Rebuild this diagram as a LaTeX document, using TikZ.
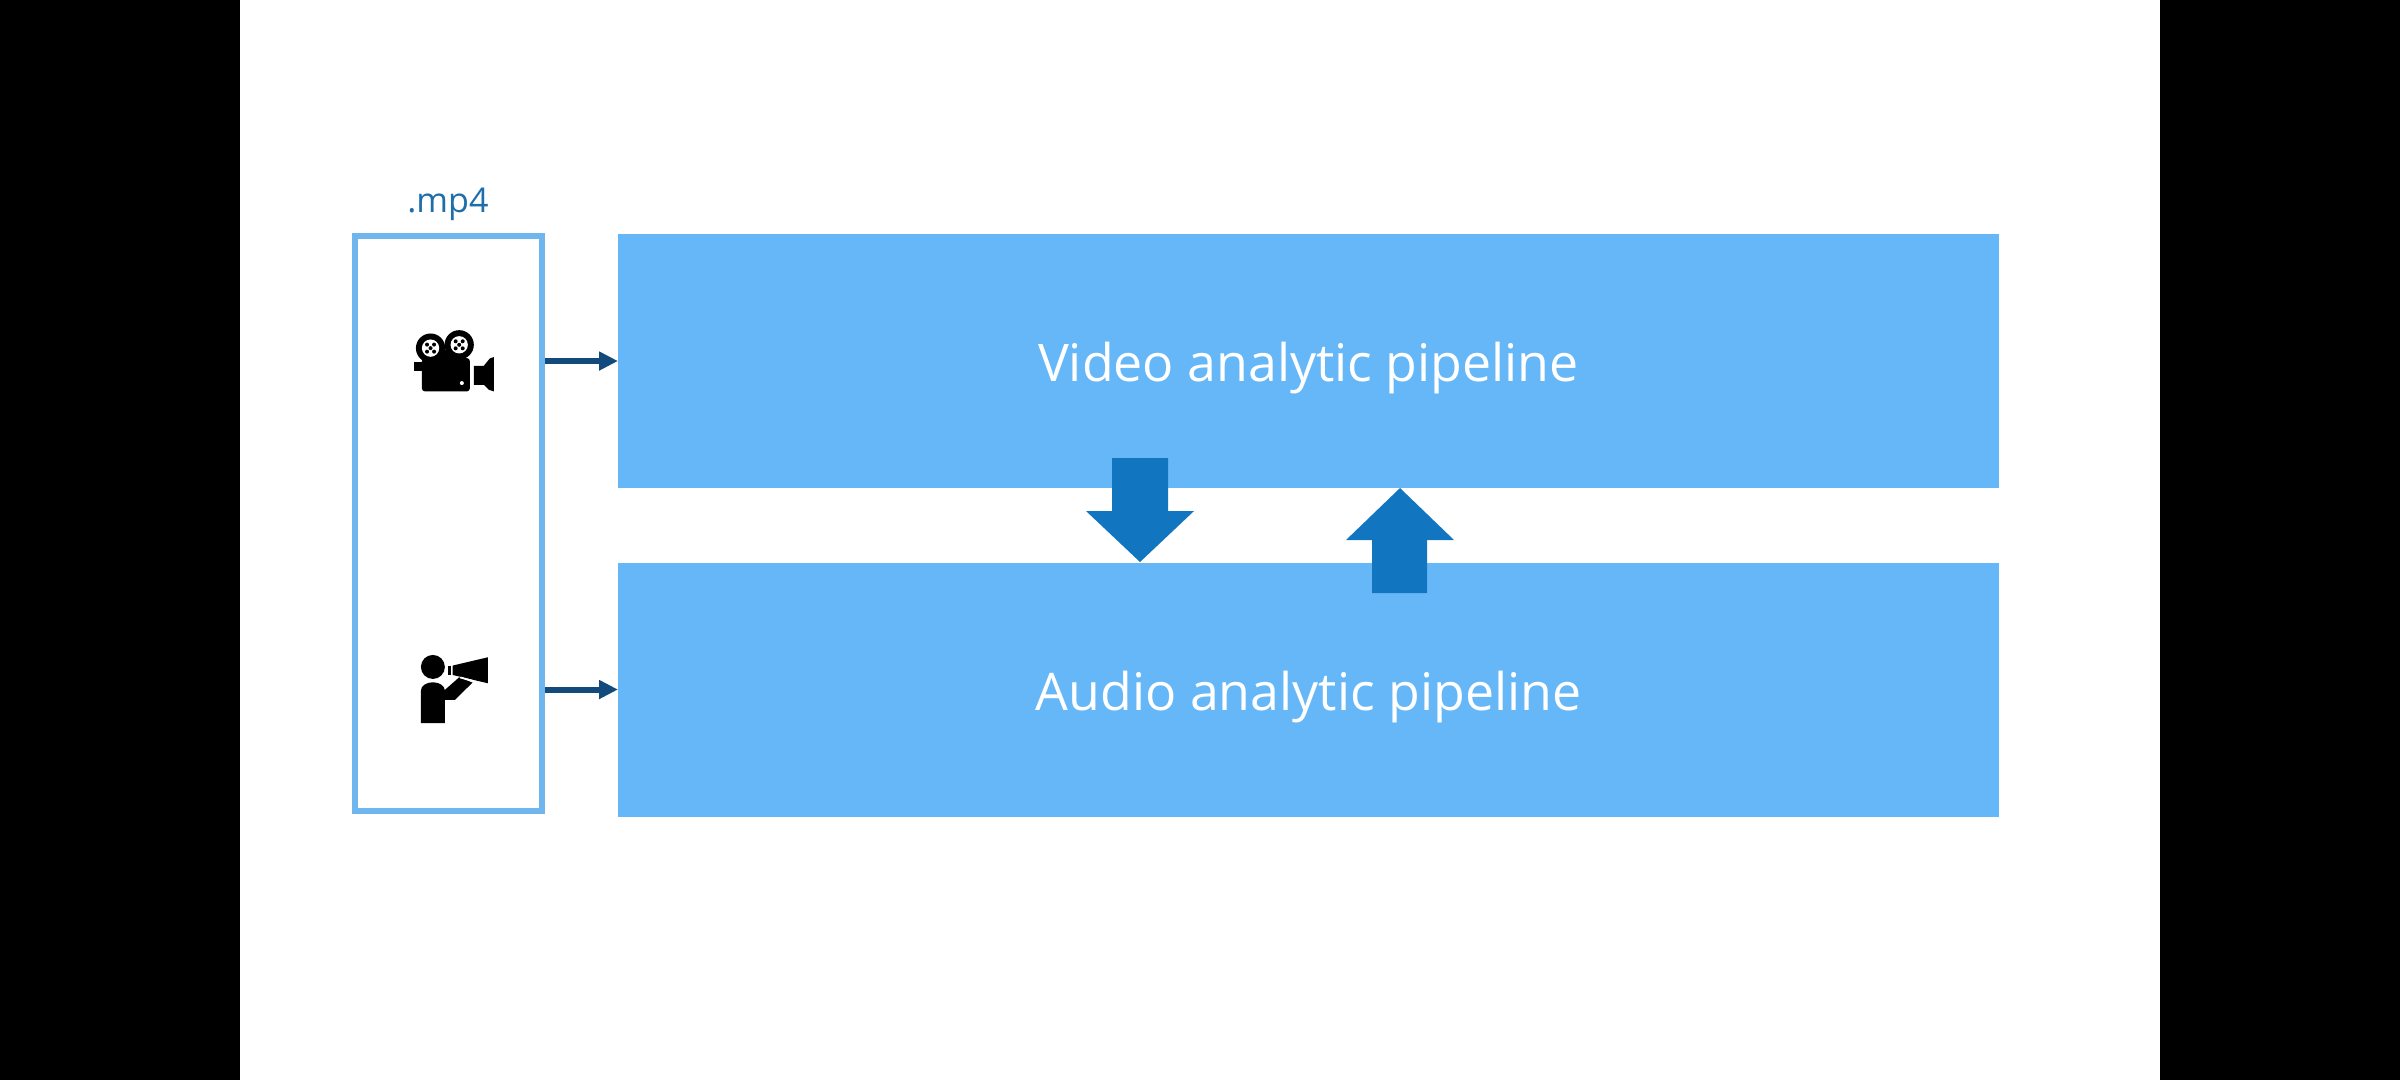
\documentclass[tikz,border=0pt]{standalone}
\usepackage{fontspec}
\setmainfont{Open Sans}
\usetikzlibrary{arrows.meta,positioning}
\definecolor{pipe}{RGB}{102,183,248}
\definecolor{frame}{RGB}{112,182,238}
\definecolor{link}{RGB}{19,74,124}
\definecolor{cross}{RGB}{17,117,192}
\definecolor{label}{RGB}{30,110,170}
\begin{document}
\begin{tikzpicture}[x=.1mm,y=-.1mm,>={Triangle[length=1.9mm,width=1.8mm]},
pn/.style={rectangle,fill=pipe,text=white,minimum width=138.1mm,minimum height=25.4mm,inner sep=0pt,outer sep=0pt,font=\fontsize{14.75}{18}\selectfont},
fn/.style={rectangle,draw=frame,line width=.6mm,fill=white,minimum width=18.7mm,minimum height=57.5mm,inner sep=0pt,outer sep=.3mm},
le/.style={link,line width=.6mm}, ce/.style={cross}, ic/.style={black}]
\useasboundingbox (0,0) rectangle (2400,1080);
\fill (0,0) rectangle (240,1080); \fill (2160,0) rectangle (2400,1080);
\node[fn] (box) at (448.5,523.5) {};
\node[text=label,font=\fontsize{9.7}{12}\selectfont] (mp4) at (448,204) {.mp4};
\node[pn] (video) at (1308.5,361) {\raisebox{-2mm}[0pt][0pt]{Video analytic pipeline}};
\node[pn] (audio) at (1308.5,689.5) {\raisebox{-2.1mm}[0pt][0pt]{Audio analytic pipeline}};
\coordinate (vout) at (box.east |- video.west);
\coordinate (aout) at (box.east |- audio.west);
\draw[le,->] (vout)--(video.west); \draw[le,->] (aout)--(audio.west);
% arrows between the two pipelines
\fill[ce] (1112,458)--(1168,458)--(1168,511)--(1194,511)--(1140,562)--(1086,511)--(1112,511)--cycle;
\fill[ce] (1372,593)--(1427,593)--(1427,540)--(1454,540)--(1400,488)--(1346,540)--(1372,540)--cycle;
% camera
\begin{scope}[shift={(340,170)},x=.0333mm,y=-.0333mm]
\fill[ic] (272,535) circle (44); \fill[ic] (358,525) circle (44);
\fill[ic] (290,540) rectangle (340,580);
\foreach \cx/\cy in {272/535,358/525}{\fill[white] (\cx,\cy) circle (26);
\foreach \a in {0,90,180,270}{\fill[ic] (\cx,\cy) ++(\a+45:15) circle (6);}\fill[ic] (\cx,\cy) circle (6);}
\fill[ic,rounded corners=.3mm] (246,565) rectangle (390,665);
\fill[ic] (222,578) rectangle (250,605);
\fill[ic] (402,588)--(432,588)--(450,566)--(462,562)--(462,665)--(447,660)--(432,645)--(402,645)--cycle;
\fill[white] (366,640) circle (6);
\end{scope}
% person with megaphone
\begin{scope}[shift={(340,600)},x=.0333mm,y=-.0333mm]
\fill[ic] (279,201) circle (36);
\fill[ic] (243,370)--(243,272) arc (180:360:36 and 25)--(315,270)--(358,232)--(398,248)--(345,300)--(315,300)--(315,370)--cycle;
\fill[ic] (338,197)--(444,172)--(444,250)--(338,225)--cycle;
\fill[ic] (324,198) rectangle (332,224);
\fill[white] (362,230)--(398,240)--(396,245)--(360,235)--cycle;
\end{scope}
\end{tikzpicture}
\end{document}
